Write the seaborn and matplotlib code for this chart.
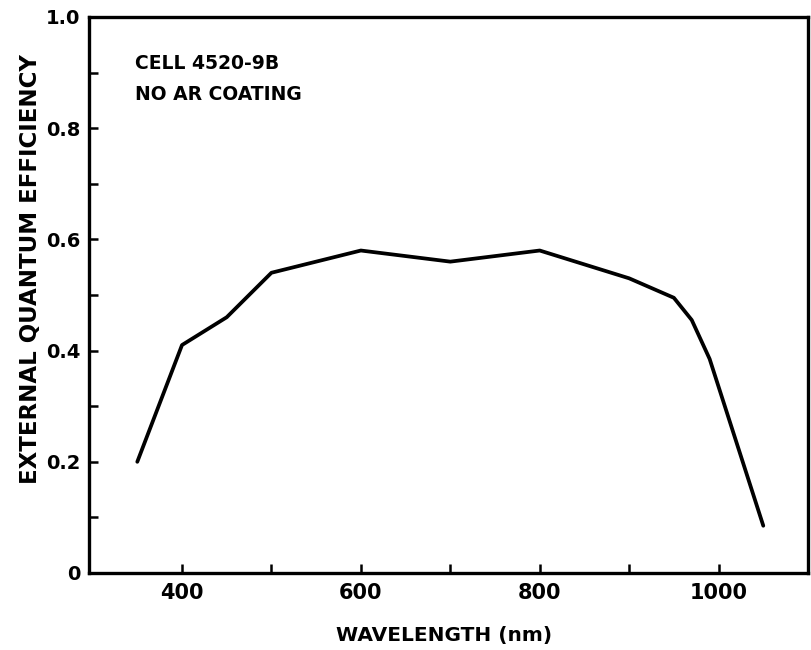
import matplotlib
matplotlib.use("Agg")
import matplotlib.pyplot as plt
import pandas as pd
import seaborn as sns

# values
wavelength = [350, 400, 450, 500, 600, 700, 800, 850, 900, 950, 970, 990, 1050]
efficiency = [0.20, 0.41, 0.46, 0.54, 0.58, 0.56, 0.58, 0.555, 0.53, 0.495, 0.455, 0.385, 0.085]

x_major = [400, 600, 800, 1000]
x_minor = [500, 700, 900]
y_major = [0, 0.2, 0.4, 0.6, 0.8, 1.0]
y_major_labels = ["0", "0.2", "0.4", "0.6", "0.8", "1.0"]
y_minor = [0.1, 0.3, 0.5, 0.7, 0.9]

note_lines = ["CELL 4520-9B", "NO AR COATING"]


def main() -> None:
    sns.set_style("ticks")
    plt.rcParams["font.family"] = ["DejaVu Sans"]
    plt.rcParams["font.weight"] = "bold"
    plt.rcParams["text.color"] = "black"
    plt.rcParams["axes.labelcolor"] = "black"

    df = pd.DataFrame({"wavelength": wavelength, "eqe": efficiency})

    fig = plt.figure(figsize=(8.12, 6.5), dpi=100)
    ax = fig.add_axes([89 / 812, 1 - 573 / 650, 719 / 812, 556 / 650])

    sns.lineplot(data=df, x="wavelength", y="eqe", color="black", linewidth=2.7, ax=ax)

    ax.set_xlim(296, 1100)
    ax.set_ylim(0, 1.0)

    ax.set_xticks(x_major)
    ax.set_xticklabels([str(v) for v in x_major])
    ax.set_xticks(x_minor, minor=True)
    ax.set_yticks(y_major)
    ax.set_yticklabels(y_major_labels)
    ax.set_yticks(y_minor, minor=True)

    for side in ["left", "right", "top", "bottom"]:
        ax.spines[side].set_linewidth(2.4)
        ax.spines[side].set_color("black")

    ax.tick_params(axis="both", which="both", direction="in", length=6.5, width=1.8,
                   colors="black", labelcolor="black", top=False, right=False)
    ax.tick_params(axis="x", which="major", labelsize=15, pad=7)
    ax.tick_params(axis="y", which="major", labelsize=14, pad=6)

    ax.set_xlabel("WAVELENGTH (nm)", fontsize=14.5, fontweight="bold", color="black")
    ax.set_ylabel("EXTERNAL QUANTUM EFFICIENCY", fontsize=16.5, fontweight="bold", color="black")
    ax.xaxis.set_label_coords(0.494, -0.095)
    ax.yaxis.set_label_coords(-0.066, 0.547)

    ax.text(0.064, 0.917, note_lines[0], transform=ax.transAxes, fontsize=13.5,
            fontweight="bold", ha="left", va="center", color="black")
    ax.text(0.064, 0.860, note_lines[1], transform=ax.transAxes, fontsize=13.5,
            fontweight="bold", ha="left", va="center", color="black")

    fig.savefig("out.png", dpi=100)
    plt.close(fig)


if __name__ == "__main__":
    main()
